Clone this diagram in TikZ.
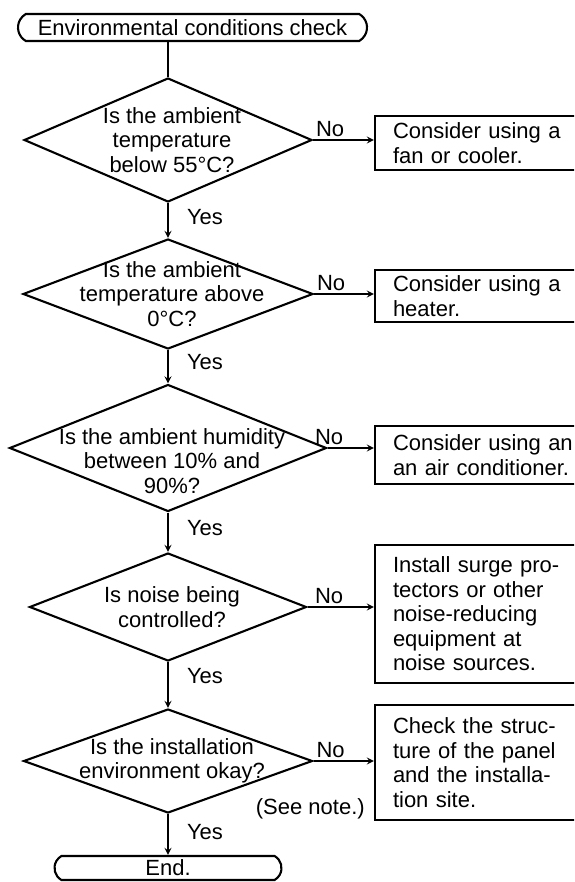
\documentclass[tikz,border=0pt]{standalone}
\usepackage{fontspec}
\setmainfont{Liberation Sans}
\usepackage{tikz}
\usetikzlibrary{shapes.geometric, shapes.misc, arrows, positioning}
\tikzstyle{terminal} = [rounded rectangle, rounded rectangle arc length=120, draw=black, line width=2.1pt, inner sep=0pt, text centered]
\tikzstyle{decision} = [diamond, draw=black, line width=2.1pt, inner sep=0pt]
\tikzstyle{question} = [align=center, inner sep=0pt, xshift=4pt]
\tikzstyle{remedy} = [rectangle, draw=black, line width=2.1pt, minimum width=216pt, text width=180pt, inner xsep=18pt, align=left]
\tikzstyle{line} = [line width=2.1pt]
\tikzstyle{arrow} = [line width=2.1pt,->,>=stealth]
\tikzstyle{answer} = [inner sep=2pt]

\begin{document}
\begin{tikzpicture}[x=1pt, y=-1pt, node distance=154pt, font=\fontsize{22pt}{24.5pt}\selectfont]
\useasboundingbox (0,0) rectangle (574,882);
\clip (0,0) rectangle (574,882);

% Start Node
\node (start) [terminal, minimum width=349pt, minimum height=27pt] at (192.5,27.5) {Environmental conditions check};

% Decision Nodes
\node (q1) [decision, minimum width=288pt, minimum height=124pt, below of=start, xshift=-24.5pt, yshift=41.5pt, label={[question]center:{Is the ambient\\temperature\\below 55°C?}}] {};
\node (q2) [decision, minimum width=290pt, minimum height=110pt, below of=q1, label={[question]center:{Is the ambient\\temperature above\\0°C?}}] {};
\node (q3) [decision, minimum width=317pt, minimum height=127pt, below of=q2, label={[question, yshift=-13pt]center:{Is the ambient humidity\\between 10\% and\\90\%?}}] {};
\node (q4) [decision, minimum width=277pt, minimum height=108pt, below of=q3, yshift=-5pt, label={[question]center:{Is noise being\\controlled?}}] {};
\node (q5) [decision, minimum width=289pt, minimum height=104pt, below of=q4, label={[question]center:{Is the installation\\environment okay?}}] {};

% End Node
\node (finish) [terminal, minimum width=227pt, minimum height=24pt, below of=q5, yshift=47pt] {End.};

% Remedy Nodes
\node (fix1) [remedy, minimum height=54pt, right of=q1, xshift=161pt, yshift=-3pt] {Consider using a\\fan or cooler.};
\node (fix2) [remedy, minimum height=52pt, right of=q2, xshift=161pt, yshift=-2pt] {Consider using a\\heater.};
\node (fix3) [remedy, minimum height=58pt, right of=q3, xshift=161pt, yshift=-7pt] {Consider using an\\an air conditioner.};
\node (fix4) [remedy, minimum height=138pt, right of=q4, xshift=161pt, yshift=-7pt] {Install surge pro-\\tectors or other\\noise-reducing\\equipment at\\noise sources.};
\node (fix5) [remedy, minimum height=115pt, right of=q5, xshift=161pt, yshift=-1.5pt] {Check the struc-\\ture of the panel\\and the installa-\\tion site.};
\node (seenote) [anchor=south east, inner sep=2pt, xshift=-7pt] at (fix5.south west) {(See note.)};

% Yes arrows
\draw [line] (start.south -| q1.north) -- (q1.north);
\draw [arrow] (q1.south) -- node [answer, pos=0.4, right, xshift=16pt] {Yes} (q2.north);
\draw [arrow] (q2.south) -- node [answer, pos=0.35, right, xshift=16pt] {Yes} (q3.north);
\draw [arrow] (q3.south) -- node [answer, pos=0.4, right, xshift=16pt] {Yes} (q4.north);
\draw [arrow] (q4.south) -- node [answer, pos=0.3, right, xshift=16pt] {Yes} (q5.north);
\draw [arrow] (q5.south) -- node [answer, pos=0.45, right, xshift=16pt] {Yes} (finish.north);

% No arrows
\draw [arrow] (q1.east) -- node [answer, pos=0, anchor=south west] {No} (q1.east -| fix1.west);
\draw [arrow] (q2.east) -- node [answer, pos=0, anchor=south west] {No} (q2.east -| fix2.west);
\draw [arrow] (q3.east) -- node [answer, pos=0, anchor=south west, xshift=-15.5pt] {No} (q3.east -| fix3.west);
\draw [arrow] (q4.east) -- node [answer, pos=0, anchor=south west, xshift=4.5pt] {No} (q4.east -| fix4.west);
\draw [arrow] (q5.east) -- node [answer, pos=0, anchor=south west] {No} (q5.east -| fix5.west);

\end{tikzpicture}
\end{document}
